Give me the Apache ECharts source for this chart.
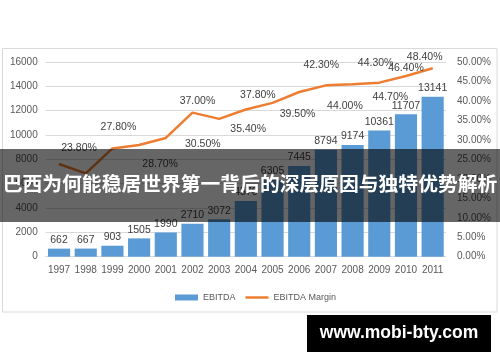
<!DOCTYPE html>
<html>
<head>
<meta charset="utf-8">
<script src="https://cdn.jsdelivr.net/npm/echarts@6/dist/echarts.min.js"></script>
<style>
html,body{margin:0;padding:0;background:#fff;}
#c{width:500px;height:362px;}
</style>
</head>
<body>
<div id="c"></div>
<script>
// ---- data ----
var years = ['1997','1998','1999','2000','2001','2002','2003','2004','2005','2006','2007','2008','2009','2010','2011'];
var ebitda = [662, 667, 903, 1505, 1990, 2710, 3072, 4570, 6305, 7445, 8794, 9174, 10361, 11707, 13141];
var margin = [23.8, 21.4, 27.8, 28.7, 30.5, 37.0, 35.4, 37.8, 39.5, 42.3, 44.0, 44.3, 44.7, 46.4, 48.4];
var marginLabelShown = [true, false, true, true, true, true, true, true, true, true, true, true, true, true, true];
var leftTicks = {min: 0, max: 16000, interval: 2000};
var rightTicks = {min: 0, max: 50, interval: 5};
var seriesNames = ['EBITDA', 'EBITDA Margin'];
var bannerText = '巴西为何能稳居世界第一背后的深层原因与独特优势解析';
var watermarkText = 'www.mobi-bty.com';

// ---- styling (label offsets for the margin line, as placed in the original) ----
var labelOffsets = [[20,-16],[0,0],[6,-21],[21,19],[37,6],[5,-12],[29,10],[12,-14],[25,11],[22,-27],[19,21],[23,-21],[11,14],[0,-8],[-8,-11]];

var marginData = margin.map(function (v, i) {
  return {
    value: v,
    label: {
      show: marginLabelShown[i],
      position: 'inside',
      offset: labelOffsets[i]
    }
  };
});

var font = 'Liberation Sans, Arial, sans-serif';
var chart = echarts.init(document.getElementById('c'), null, {renderer: 'canvas'});
chart.setOption({
  backgroundColor: '#fff',
  animation: false,
  textStyle: {fontFamily: font},
  grid: {left: 45.7, right: 54, top: 62, bottom: 105.3, containLabel: false},
  legend: {
    data: [
      {name: seriesNames[0], icon: 'rect'},
      {name: seriesNames[1], icon: 'path://M0,0 L24,0 L24,2.6 L0,2.6 Z'}
    ],
    left: 170, top: 288,
    itemWidth: 23, itemHeight: 6, itemGap: 10,
    textStyle: {color: '#595959', fontSize: 9, fontFamily: font}
  },
  xAxis: {
    type: 'category',
    data: years,
    axisLine: {lineStyle: {color: '#d9d9d9'}},
    axisTick: {show: false},
    axisLabel: {color: '#595959', fontSize: 10, margin: 9, interval: 0}
  },
  yAxis: [
    {
      type: 'value', min: leftTicks.min, max: leftTicks.max, interval: leftTicks.interval,
      axisLine: {show: false}, axisTick: {show: false},
      splitLine: {lineStyle: {color: '#d9d9d9', width: 1}},
      axisLabel: {color: '#595959', fontSize: 10, margin: 8,
        formatter: function (v) { return String(v); }}
    },
    {
      type: 'value', min: rightTicks.min, max: rightTicks.max, interval: rightTicks.interval,
      axisLine: {show: false}, axisTick: {show: false},
      splitLine: {show: false},
      axisLabel: {color: '#595959', fontSize: 10, margin: 11,
        formatter: function (v) { return v.toFixed(2) + '%'; }}
    }
  ],
  series: [
    {
      name: seriesNames[0],
      type: 'bar',
      data: ebitda,
      barCategoryGap: '17%',
      itemStyle: {color: '#5b9bd5'},
      label: {show: true, position: 'top', distance: 3, color: '#404040', fontSize: 10.5}
    },
    {
      name: seriesNames[1],
      type: 'line',
      yAxisIndex: 1,
      data: marginData,
      symbol: 'circle',
      symbolSize: 1,
      itemStyle: {color: '#ed7d31'},
      lineStyle: {color: '#ed7d31', width: 2.5},
      label: {show: true, color: '#404040', fontSize: 10.5,
        formatter: function (p) { return p.value.toFixed(2) + '%'; }},
      z: 3
    }
  ],
  graphic: [
    {type: 'rect', z: -10, silent: true,
      shape: {x: 2.5, y: 48.5, width: 494.5, height: 263.5},
      style: {fill: 'none', stroke: '#d9d9d9', lineWidth: 1}},
    {type: 'rect', z: 100, silent: true,
      shape: {x: 0, y: 149, width: 500, height: 73},
      style: {fill: 'rgba(0,0,0,0.6)'}},
    {type: 'text', z: 101, silent: true, left: 'center', top: 174,
      style: {text: bannerText, fill: '#fff', font: 'bold 19.8px "Noto Sans CJK SC", sans-serif'}},
    {type: 'rect', z: 100, silent: true,
      shape: {x: 307, y: 315, width: 184, height: 37},
      style: {fill: '#000'}},
    {type: 'text', z: 101, silent: true, x: 399, y: 333.5,
      style: {text: watermarkText, fill: '#fff', align: 'center', verticalAlign: 'middle',
        font: 'bold 17.5px "Liberation Sans", Arial, sans-serif'}}
  ]
});
</script>
</body>
</html>
